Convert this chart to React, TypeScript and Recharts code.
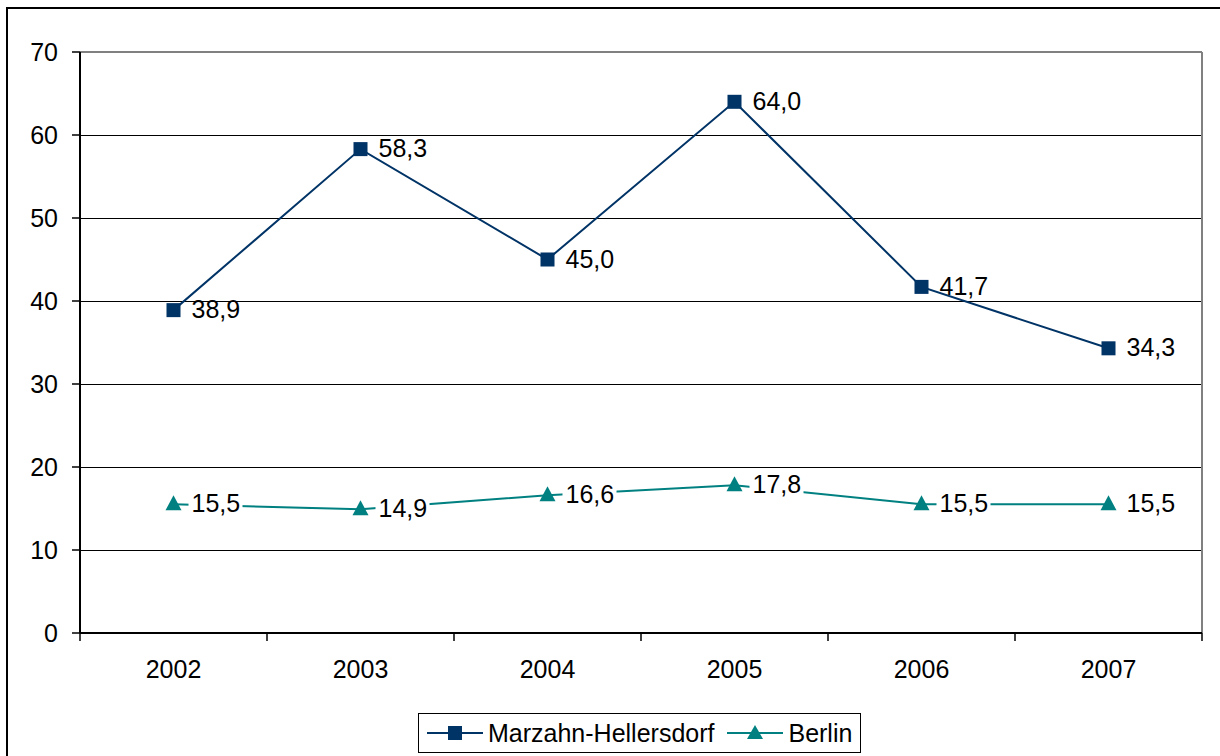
import { CartesianGrid, Legend, LabelList, Line, LineChart, ReferenceLine, XAxis, YAxis } from "recharts";

const years = ["2002", "2003", "2004", "2005", "2006", "2007"];
const marzahn = [38.9, 58.3, 45.0, 64.0, 41.7, 34.3];
const berlin = [15.5, 14.9, 16.6, 17.8, 15.5, 15.5];
const yTicks = [0, 10, 20, 30, 40, 50, 60, 70];

const NAVY = "#003366";
const TEAL = "#008080";
const FONT = "'Liberation Sans', Arial, sans-serif";
const FS = 25;

const W = 1220;
const H = 756;
const X_H = 60;
const M = { top: 52, right: 18, bottom: 123 - X_H, left: 0 };
const Y_W = 80;
const HALF_BAND = (W - M.right - Y_W) / years.length / 2;

const data = years.map((year, i) => ({
  x: i + 0.5,
  year,
  marzahn: marzahn[i],
  berlin: berlin[i],
}));

const fmt = (v: number) => v.toFixed(1).replace(".", ",");

function YearTick(props: any) {
  const { x, y, payload } = props;
  const i = payload.value;
  if (i >= years.length) return <g />;
  return (
    <text x={x + HALF_BAND} y={y + 28} textAnchor="middle" dominantBaseline="central" fontSize={FS} fontFamily={FONT} fill="#000">
      {years[i]}
    </text>
  );
}

function SquareDot(props: any) {
  const { cx, cy, index } = props;
  return <rect key={`sq-${index}`} x={cx - 7} y={cy - 7} width={14} height={14} fill={NAVY} />;
}

function TriangleDot(props: any) {
  const { cx, cy, index } = props;
  return <polygon key={`tr-${index}`} points={`${cx},${cy - 9} ${cx + 8},${cy + 6} ${cx - 8},${cy + 6}`} fill={TEAL} />;
}

function makeLabel(withBg: boolean) {
  return (props: any) => {
    const { x, y, value, index } = props;
    return (
      <g key={`lb-${index}`}>
        {withBg && <rect x={x + 15} y={y - 14} width={54} height={26} fill="#fff" />}
        <text x={x + 18} y={y - 1} dominantBaseline="central" fontSize={FS} fontFamily={FONT} fill="#000">
          {fmt(value)}
        </text>
      </g>
    );
  };
}

function LegendIcon({ color, shape }: { color: string; shape: "square" | "triangle" }) {
  return (
    <svg width={56} height={20} style={{ display: "block" }}>
      <line x1={0} y1={10} x2={56} y2={10} stroke={color} strokeWidth={2} />
      {shape === "square" ? (
        <rect x={21} y={3} width={14} height={14} fill={color} />
      ) : (
        <polygon points="28,2 36,16 20,16" fill={color} />
      )}
    </svg>
  );
}

function LegendBox() {
  const items = [
    { name: "Marzahn-Hellersdorf", color: NAVY, shape: "square" as const },
    { name: "Berlin", color: TEAL, shape: "triangle" as const },
  ];
  return (
    <div
      style={{
        display: "flex",
        alignItems: "center",
        border: "1px solid #000",
        background: "#fff",
        height: 38,
        padding: "0 8px",
        boxSizing: "content-box",
        fontFamily: FONT,
        fontSize: FS,
        color: "#000",
      }}
    >
      {items.map((it, i) => (
        <div key={it.name} style={{ display: "flex", alignItems: "center", marginLeft: i === 0 ? 0 : 13 }}>
          <LegendIcon color={it.color} shape={it.shape} />
          <span style={{ marginLeft: 5 }}>{it.name}</span>
        </div>
      ))}
    </div>
  );
}

export default function App() {
  return (
    <div style={{ position: "fixed", left: 0, top: 0, width: W, height: H, overflow: "hidden", background: "#fff" }}>
      <div
        style={{
          position: "absolute",
          left: 6,
          top: 7,
          width: W,
          height: H,
          border: "2px solid #000",
        }}
      />
      <div style={{ position: "absolute", left: 0, top: 0 }}>
        <LineChart width={W} height={H} data={data} margin={M}>
          <CartesianGrid horizontal vertical={false} stroke="#000" strokeWidth={1} shapeRendering="crispEdges" />
          <XAxis
            dataKey="x"
            type="number"
            domain={[0, years.length]}
            ticks={[0, 1, 2, 3, 4, 5, 6]}
            interval={0}
            height={X_H}
            tickSize={8}
            tickMargin={0}
            tick={<YearTick />}
            axisLine={{ stroke: "#000", strokeWidth: 2 }}
            tickLine={{ stroke: "#000", strokeWidth: 1.5 }}
          />
          <YAxis
            domain={[0, 70]}
            ticks={yTicks}
            interval={0}
            width={Y_W}
            tickSize={8}
            tickMargin={14}
            tick={{ fontSize: FS, fontFamily: FONT, fill: "#000" }}
            axisLine={{ stroke: "#000", strokeWidth: 2 }}
            tickLine={{ stroke: "#000", strokeWidth: 1.5 }}
          />
          <ReferenceLine y={70} stroke="#808080" strokeWidth={2} />
          <ReferenceLine x={years.length} stroke="#808080" strokeWidth={2} />
          <Legend
            layout="horizontal"
            verticalAlign="middle"
            align="center"
            content={<LegendBox />}
            wrapperStyle={{ left: 418, top: 713, width: "auto" }}
          />
          <Line
            dataKey="marzahn"
            name="Marzahn-Hellersdorf"
            stroke={NAVY}
            strokeWidth={2}
            dot={SquareDot}
            activeDot={false}
            isAnimationActive={false}
          >
            <LabelList dataKey="marzahn" content={makeLabel(false)} />
          </Line>
          <Line
            dataKey="berlin"
            name="Berlin"
            stroke={TEAL}
            strokeWidth={2}
            dot={TriangleDot}
            activeDot={false}
            isAnimationActive={false}
          >
            <LabelList dataKey="berlin" content={makeLabel(true)} />
          </Line>
        </LineChart>
      </div>
    </div>
  );
}
